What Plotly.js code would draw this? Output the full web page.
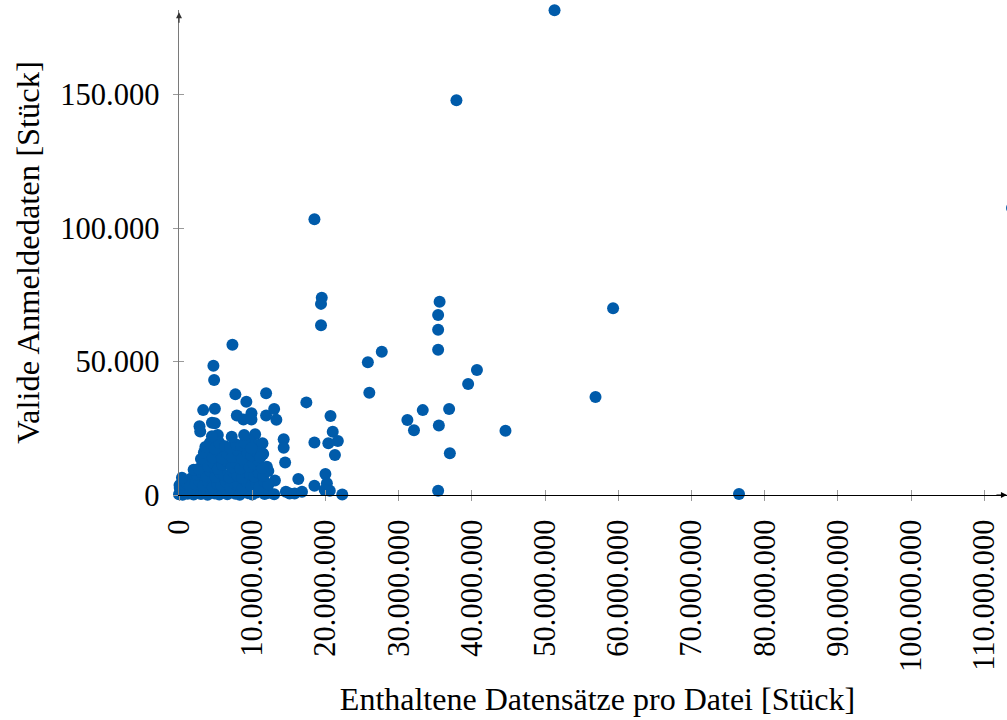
<!DOCTYPE html>
<html><head><meta charset="utf-8">
<script src="https://cdn.plot.ly/plotly-3.0.1.min.js"></script>
<style>html,body{margin:0;padding:0;background:#fff;overflow:hidden}</style>
</head><body><div id="chart" style="width:1016px;height:720px"></div>
<script>
const xTitle = 'Enthaltene Datensätze pro Datei [Stück]';
const yTitle = 'Valide Anmeldedaten [Stück]';
const xTickVals = [0, 10e6, 20e6, 30e6, 40e6, 50e6, 60e6, 70e6, 80e6, 90e6, 100e6, 110e6];
const xTickText = ['0', '10.000.000', '20.000.000', '30.000.000', '40.000.000', '50.000.000', '60.000.000', '70.000.000', '80.000.000', '90.000.000', '100.000.000', '110.000.000'];
const yTickVals = [0, 50000, 100000, 150000];
const yTickText = ['0', '50.000', '100.000', '150.000'];

// Enthaltene Datensätze pro Datei
const datensaetze = [
  51.3e6, 37.9e6, 18.5e6, 19.5e6, 19.4e6, 19.4e6, 35.6e6, 35.4e6, 35.4e6, 35.4e6,
  59.3e6, 27.7e6, 25.8e6, 26.0e6, 40.7e6, 39.5e6, 33.3e6, 36.9e6, 31.2e6, 32.1e6,
  35.5e6, 44.6e6, 37.0e6, 35.4e6, 56.9e6, 76.5e6, 113.8e6,
  17.4e6, 20.7e6, 21.0e6, 18.5e6, 20.4e6, 21.7e6, 21.3e6, 14.5e6, 14.3e6, 14.3e6,
  16.3e6, 20.0e6, 18.5e6, 20.2e6, 20.6e6, 19.9e6, 22.3e6, 15.1e6, 15.8e6, 16.8e6, 14.6e6,
  7.3e6, 4.7e6, 4.8e6, 7.7e6, 11.9e6, 9.2e6, 3.3e6, 4.9e6, 7.9e6, 9.9e6,
  8.8e6, 9.9e6, 11.9e6, 13.0e6, 13.3e6, 2.8e6, 2.9e6, 4.5e6, 4.9e6, 5.1e6,
  10.4e6, 9.6e6, 10.8e6, 11.5e6, 4.0e6, 12.0e6, 13.1e6, 1.7e6, 0.07e6, 11.4e6, 11.4e6, 5.3e6,
  0, 0.2e6, 0.5e6, 0.8e6, 1.2e6, 1.6e6, 2.0e6, 2.5e6, 3.0e6, 3.4e6, 3.9e6, 4.4e6, 4.9e6, 5.5e6,
  6.0e6, 6.6e6, 7.1e6, 7.7e6, 8.3e6, 8.8e6, 9.4e6, 10.0e6, 10.6e6, 11.1e6, 11.7e6, 12.3e6, 13.0e6,
  0.1e6, 0.6e6, 1.0e6, 1.5e6, 2.2e6, 2.8e6, 3.3e6, 4.0e6, 4.6e6, 5.2e6, 5.8e6, 6.4e6, 7.0e6,
  7.5e6, 8.1e6, 8.7e6, 9.2e6, 9.9e6, 10.5e6, 11.0e6, 11.6e6, 12.2e6,
  0.4e6, 2.4e6, 3.0e6, 3.7e6, 4.3e6, 5.0e6, 5.6e6, 6.2e6, 6.9e6, 7.4e6, 8.0e6, 8.6e6,
  9.1e6, 9.7e6, 10.3e6, 10.9e6, 11.5e6, 12.2e6,
  2.0e6, 2.7e6, 3.3e6, 4.0e6, 4.7e6, 5.3e6, 5.9e6, 6.5e6, 7.2e6, 7.8e6, 8.4e6, 9.0e6,
  9.6e6, 10.2e6, 10.8e6, 11.4e6,
  3.0e6, 3.4e6, 4.6e6, 5.3e6, 5.9e6, 6.6e6, 7.3e6, 8.0e6, 8.6e6, 9.3e6, 9.9e6, 10.6e6, 11.1e6,
  3.6e6, 4.2e6, 4.9e6, 5.5e6, 6.3e6, 7.0e6, 7.8e6, 8.5e6, 9.0e6, 9.9e6,
  4.5e6, 7.2e6, 8.9e6
];

// Valide Anmeldedaten
const anmeldedaten = [
  181600, 147900, 103300, 73900, 71600, 63600, 72400, 67400, 61900, 54400,
  70000, 53700, 49700, 38300, 46800, 41600, 31800, 32200, 28100, 24300,
  26000, 24100, 15600, 1600, 36700, 400, 107500,
  34700, 29600, 23700, 19700, 19400, 20200, 15000, 12200, 20900, 17700,
  6000, 7900, 3500, 4400, 1600, 1900, 200, 600, 600, 1200, 1200,
  56300, 48400, 43100, 37700, 38100, 34900, 31800, 32300, 29800, 30600,
  28300, 28300, 29800, 32200, 28200, 25800, 23800, 27100, 26900, 22100,
  22800, 20600, 18700, 15400, 15200, 10600, 5400, 6300, 3700, 19400, 15600, 22500,
  300, 1200, 100, 2000, 500, 1000, 200, 1500, 400, 900, 100, 1800, 600, 200,
  1100, 300, 2200, 500, 100, 1400, 700, 200, 900, 1600, 400, 800, 300,
  2600, 3800, 4500, 3200, 4000, 5000, 3500, 4800, 2900, 4200, 3600, 5100, 3000,
  4400, 3800, 2700, 4900, 3300, 4600, 3100, 5200, 3900,
  6500, 7800, 8600, 7000, 8900, 6800, 8200, 7400, 6600, 8800, 7200, 6400,
  8500, 7700, 6900, 8300, 7100, 9000,
  9500, 9800, 12600, 10800, 12000, 9700, 11200, 12800, 10400, 11900, 9900, 12300,
  10600, 11600, 12900, 10100,
  13500, 15900, 14000, 16300, 13800, 15500, 14200, 16700, 13600, 15900, 14800, 16200, 14100,
  18000, 19500, 17400, 19600, 18300, 17800, 18900, 18600, 19500, 17500,
  22000, 21800, 22500
];

const FONT = 'Liberation Serif';
const markerColor = 'rgb(0,91,170)';
const xRange = [0, 114.34e6];
const yRange = [0, 181700];

const trace = {
  type: 'scatter', mode: 'markers',
  x: datensaetze, y: anmeldedaten,
  marker: {size: 12, color: markerColor, line: {width: 0}},
  cliponaxis: false, hoverinfo: 'skip', showlegend: false
};

const layout = {
  width: 1016, height: 720,
  margin: {l: 179, r: 0, t: 10, b: 225, pad: 0},
  paper_bgcolor: '#fff', plot_bgcolor: '#fff',
  showlegend: false,
  font: {family: FONT, color: '#000'},
  xaxis: {
    range: xRange, tickmode: 'array', tickvals: xTickVals, ticktext: xTickText,
    tickangle: -90, ticks: 'outside', ticklen: 5, tickwidth: 1, tickcolor: '#9a9a9a',
    showline: true, linecolor: '#000', linewidth: 1.2,
    showgrid: false, zeroline: false, automargin: false, ticklabelstandoff: 6,
    tickfont: {family: FONT, size: 30.5, color: '#000'},
    title: {text: xTitle, font: {family: FONT, size: 32, color: '#000'}, standoff: 16}
  },
  yaxis: {
    range: yRange, tickmode: 'array', tickvals: yTickVals, ticktext: yTickText,
    ticks: 'outside', ticklen: 5, tickwidth: 1, tickcolor: '#9a9a9a',
    showline: true, linecolor: '#7a7a7a', linewidth: 1.5,
    showgrid: false, zeroline: false, automargin: false, ticklabelstandoff: 7,
    tickfont: {family: FONT, size: 30.5, color: '#000'},
    title: {text: yTitle, font: {family: FONT, size: 32.5, color: '#000'}, standoff: 11}
  },
  xaxis2: {
    overlaying: 'x', anchor: 'y', side: 'bottom', range: xRange,
    tickmode: 'array', tickvals: xTickVals, ticks: 'inside', ticklen: 5, tickwidth: 1,
    tickcolor: '#9a9a9a', showticklabels: false, showgrid: false, zeroline: false, showline: false
  },
  yaxis2: {
    overlaying: 'y', anchor: 'x', side: 'left', range: yRange,
    tickmode: 'array', tickvals: yTickVals, ticks: 'inside', ticklen: 5, tickwidth: 1,
    tickcolor: '#9a9a9a', showticklabels: false, showgrid: false, zeroline: false, showline: false
  },
  annotations: [
    {xref: 'x', yref: 'y', x: 113.1e6, y: 0, axref: 'pixel', ayref: 'pixel', ax: -12, ay: 0,
     text: '', showarrow: true, arrowhead: 2, arrowsize: 1, arrowwidth: 1.2, arrowcolor: '#000'},
    {xref: 'x', yref: 'y', x: 0, y: 180900, axref: 'pixel', ayref: 'pixel', ax: 0, ay: 12,
     text: '', showarrow: true, arrowhead: 2, arrowsize: 1, arrowwidth: 1.2, arrowcolor: '#333'}
  ]
};

const ghostX = {type: 'scatter', mode: 'markers', x: [], y: [], xaxis: 'x2', yaxis: 'y', hoverinfo: 'skip', showlegend: false};
const ghostY = {type: 'scatter', mode: 'markers', x: [], y: [], xaxis: 'x', yaxis: 'y2', hoverinfo: 'skip', showlegend: false};

Plotly.newPlot('chart', [ghostX, ghostY, trace], layout, {displayModeBar: false, staticPlot: true});
</script>
</body></html>
